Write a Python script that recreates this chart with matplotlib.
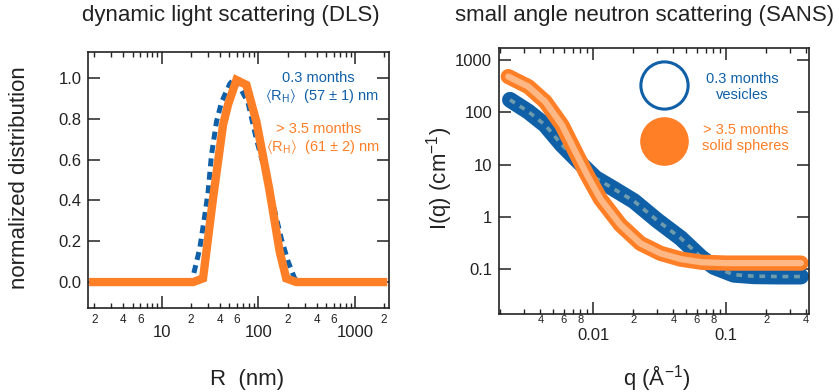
import matplotlib
matplotlib.use("Agg")
import matplotlib.pyplot as plt
import numpy as np
from matplotlib.ticker import FixedLocator, FuncFormatter

plt.rcParams['font.family'] = ['Liberation Sans', 'DejaVu Sans']
plt.rcParams['mathtext.fontset'] = 'custom'
plt.rcParams['mathtext.rm'] = 'Liberation Sans'
plt.rcParams['mathtext.it'] = 'Liberation Sans:italic'
plt.rcParams['mathtext.default'] = 'regular'

BLUE = '#1060a8'
ORANGE = '#ff7f27'
PEACH = '#ffb784'
GREY = '#6e9cac'
INK = '#222222'

# --- DLS data (R in nm, normalized distribution) ---
dls_r_young = [1.95, 20.5, 21.1, 24.7, 27.9, 30.1, 32.6, 36.8, 41.4, 50.4, 57, 78, 95.3, 121, 148, 173, 203, 237, 260, 1950]
dls_young = [0, 0, 0.03, 0.165, 0.33, 0.44, 0.62, 0.786, 0.88, 0.97, 1.0, 0.88, 0.70, 0.52, 0.345, 0.21, 0.10, 0.018, 0, 0]
dls_r_old = [1.95, 21.1, 26.7, 33.9, 43.0, 48.5, 59.2, 75.1, 95.3, 129, 166, 194, 247, 1950]
dls_old = [0, 0, 0.018, 0.41, 0.77, 0.87, 0.99, 0.966, 0.786, 0.46, 0.149, 0.018, 0, 0]

# --- SANS data (q in 1/A, I in 1/cm) ---
q_young = [0.00236, 0.00324, 0.00434, 0.0058, 0.00774, 0.0104, 0.0138, 0.0202, 0.0303, 0.0455, 0.0644, 0.0807, 0.114, 0.162, 0.25, 0.365]
I_young = [173, 103, 57, 23.8, 11.4, 5.5, 3.6, 2.0, 0.85, 0.39, 0.17, 0.11, 0.078, 0.073, 0.072, 0.072]
q_old = [0.00229, 0.00324, 0.00434, 0.0058, 0.00731, 0.00896, 0.0113, 0.016, 0.0226, 0.032, 0.0455, 0.065, 0.1, 0.2, 0.365]
I_old = [482, 310, 160, 57, 17.7, 6.35, 2.2, 0.7, 0.31, 0.2, 0.155, 0.135, 0.13, 0.13, 0.13]

dls_minor_labels = [2, 4, 6]
sans_minor_labels = [2, 4, 6, 8]

fig = plt.figure(figsize=(8.39, 3.92), dpi=100)
ax1 = fig.add_axes([88 / 839, 1 - 308 / 392, 301 / 839, 256 / 392])
ax2 = fig.add_axes([499 / 839, 1 - 314 / 392, 310 / 839, 266 / 392])


def minor_fmt(keep, qmin=0):
    def f(v, pos):
        if v < qmin:
            return ''
        k = int(round(v / 10 ** np.floor(np.log10(v) + 1e-9)))
        return str(k) if k in keep else ''
    return FuncFormatter(f)


def style(ax):
    for s in ax.spines.values():
        s.set_linewidth(1.2)
        s.set_color(INK)
    ax.tick_params(which='both', direction='in', top=True, right=True, color=INK, labelcolor=INK)
    ax.tick_params(which='major', length=8.5, width=1.1, labelsize=12)
    ax.tick_params(which='minor', length=3.6, width=1.0, labelsize=8.5)


# ---------- DLS ----------
ax1.plot(dls_r_young, dls_young, color=BLUE, lw=3.6, dashes=(1.6, 1.1))
ax1.plot(dls_r_old, dls_old, color=ORANGE, lw=6, solid_joinstyle='miter')
ax1.set_xscale('log')
ax1.set_xlim(1.72, 2248)
ax1.set_ylim(-0.127, 1.127)
ax1.set_yticks([0, 0.2, 0.4, 0.6, 0.8, 1.0])
ax1.yaxis.set_major_formatter(FuncFormatter(lambda v, p: f'{v:.1f}'))
ax1.xaxis.set_major_locator(FixedLocator([10, 100, 1000]))
ax1.xaxis.set_major_formatter(FuncFormatter(lambda v, p: f'{v:g}'))
ax1.xaxis.set_minor_locator(FixedLocator([k * 10 ** n for n in range(0, 4) for k in range(2, 10)]))
ax1.xaxis.set_minor_formatter(minor_fmt(dls_minor_labels))
style(ax1)
ax1.tick_params(axis='x', which='major', pad=12.5)
ax1.tick_params(axis='x', which='minor', pad=4.0)
ax1.tick_params(axis='y', which='major', pad=4.5)

ax1.text(0.764, 0.898, '0.3 months', transform=ax1.transAxes, color=BLUE,
         fontsize=10.5, ha='center', va='center')
ax1.text(0.777, 0.828, r'$\langle$R$_\mathregular{H}$$\rangle$  (57 ± 1) nm', transform=ax1.transAxes,
         color=BLUE, fontsize=10.5, ha='center', va='center')
ax1.text(0.767, 0.699, '> 3.5 months', transform=ax1.transAxes, color=ORANGE,
         fontsize=10.5, ha='center', va='center')
ax1.text(0.780, 0.629, r'$\langle$R$_\mathregular{H}$$\rangle$  (61 ± 2) nm', transform=ax1.transAxes,
         color=ORANGE, fontsize=10.5, ha='center', va='center')

# ---------- SANS ----------
ax2.plot(q_young, I_young, color=BLUE, lw=11.5, solid_capstyle='round', solid_joinstyle='round')
ax2.plot(q_young, I_young, color=GREY, lw=2.6, dashes=(1.6, 1.6))
ax2.plot(q_old, I_old, color=ORANGE, lw=11, solid_capstyle='round', solid_joinstyle='round')
ax2.plot(q_old, I_old, color=PEACH, lw=4.5, solid_capstyle='round', solid_joinstyle='round')
ax2.set_xscale('log')
ax2.set_yscale('log')
ax2.set_xlim(0.00195, 0.42)
ax2.set_ylim(0.0138, 1698)
ax2.yaxis.set_major_locator(FixedLocator([0.1, 1, 10, 100, 1000]))
ax2.yaxis.set_major_formatter(FuncFormatter(lambda v, p: f'{v:g}'))
ax2.yaxis.set_minor_locator(FixedLocator([]))
ax2.xaxis.set_major_locator(FixedLocator([0.01, 0.1]))
ax2.xaxis.set_major_formatter(FuncFormatter(lambda v, p: f'{v:g}'))
ax2.xaxis.set_minor_locator(FixedLocator([k * 10 ** n for n in range(-3, 0) for k in range(2, 10)]))
ax2.xaxis.set_minor_formatter(minor_fmt(sans_minor_labels, qmin=0.0025))
style(ax2)
ax2.tick_params(axis='x', which='major', pad=10)
ax2.tick_params(axis='x', which='minor', pad=1, labelsize=8)
ax2.tick_params(axis='y', which='major', pad=5)

ax2.plot([0.532], [0.861], 'o', transform=ax2.transAxes, ms=34, mfc='white', mec=BLUE, mew=2.2)
ax2.plot([0.532], [0.650], 'o', transform=ax2.transAxes, ms=34, mfc=ORANGE, mec=ORANGE, mew=1)
ax2.text(0.784, 0.853, '0.3 months\nvesicles', transform=ax2.transAxes, color=BLUE,
         fontsize=10.5, ha='center', va='center', linespacing=1.25)
ax2.text(0.794, 0.662, '> 3.5 months\nsolid spheres', transform=ax2.transAxes, color=ORANGE,
         fontsize=10.5, ha='center', va='center', linespacing=1.25)

# titles and axis labels
fig.text(231 / 839, 1 - 15 / 392, 'dynamic light scattering (DLS)', fontsize=16, ha='center', va='center', color=INK)
fig.text(645 / 839, 1 - 15 / 392, 'small angle neutron scattering (SANS)', fontsize=16, ha='center', va='center', color=INK)
fig.text(20 / 839, 1 - 178 / 392, 'normalized distribution', fontsize=16, rotation=90, ha='center', va='center', color=INK)
fig.text(440 / 839, 1 - 178 / 392, 'I(q) (cm$^{-1}$)', fontsize=16, rotation=90, ha='center', va='center', color=INK)
fig.text(247 / 839, 1 - 380 / 392, 'R  (nm)', fontsize=16, ha='center', va='center', color=INK)
fig.text(657 / 839, 1 - 378 / 392, 'q (Å$^{-1}$)', fontsize=16, ha='center', va='center', color=INK)

fig.savefig('out.png', dpi=100)
